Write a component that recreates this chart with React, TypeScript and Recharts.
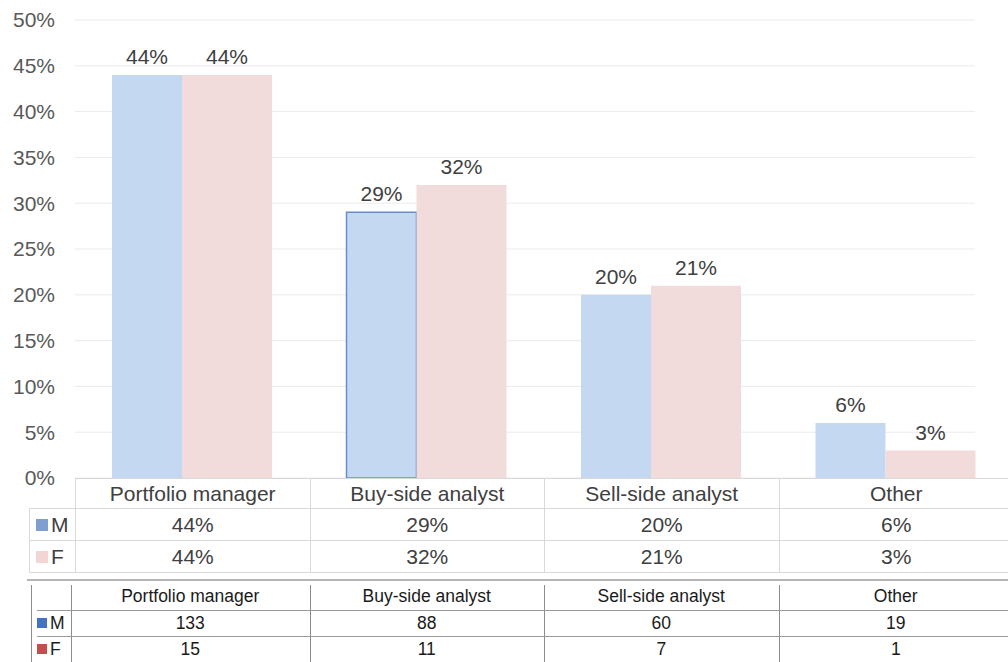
import React from 'react';
import { BarChart, Bar, XAxis, YAxis, CartesianGrid, LabelList, Cell } from 'recharts';

const categories = ['Portfolio manager', 'Buy-side analyst', 'Sell-side analyst', 'Other'];
const malePct = [44, 29, 20, 6];
const femalePct = [44, 32, 21, 3];
const maleCount = [133, 88, 60, 19];
const femaleCount = [15, 11, 7, 1];
const yTicks = [0, 5, 10, 15, 20, 25, 30, 35, 40, 45, 50];

const data = categories.map((name, i) => ({ name, M: malePct[i], F: femalePct[i] }));

const FONT = '"Liberation Sans", Arial, sans-serif';
const PLOT_LEFT = 75;
const PLOT_RIGHT = 1013;
const COL_W = (PLOT_RIGHT - PLOT_LEFT) / categories.length;
const colX = (i: number) => PLOT_LEFT + i * COL_W;

const gridLine = (props: any) => (
  <line
    key={props.key}
    x1={props.x1}
    x2={975}
    y1={props.y1}
    y2={props.y2}
    stroke="#ebebeb"
    strokeWidth={1}
  />
);

const Box: React.FC<{ x: number; y: number; w: number; h: number; style?: React.CSSProperties; children?: React.ReactNode }> = ({ x, y, w, h, style, children }) => (
  <div
    style={{
      position: 'absolute',
      left: x,
      top: y,
      width: w,
      height: h,
      boxSizing: 'border-box',
      display: 'flex',
      alignItems: 'center',
      justifyContent: 'center',
      ...style,
    }}
  >
    {children}
  </div>
);

export default function App() {
  const t1 = '#d9d9d9';
  const rows1 = [
    { key: 'M', color: '#7f9fd0', values: malePct },
    { key: 'F', color: '#f2d6d6', values: femalePct },
  ];
  const rows2 = [
    { key: 'M', color: '#4472c4', values: maleCount },
    { key: 'F', color: '#c0504d', values: femaleCount },
  ];
  const r1y = [508, 540];
  const r2y = [610, 636];
  const labelStyle = { fontSize: 21, fill: '#404040', fontFamily: FONT };

  return (
    <div style={{ position: 'relative', width: 1008, height: 662, overflow: 'hidden', background: '#fff', fontFamily: FONT }}>
      <style>{`body{margin:0}`}</style>
      <div style={{ position: 'absolute', left: 0, top: 0 }}>
        <BarChart width={PLOT_RIGHT} height={500} data={data} margin={{ top: 20, right: 0, bottom: 22, left: 0 }} barGap={0} barCategoryGap={0}>
          <CartesianGrid vertical={false} horizontal={gridLine} />
          <XAxis dataKey="name" hide />
          <YAxis
            domain={[0, 50]}
            ticks={yTicks}
            interval={0}
            tickFormatter={(v) => `${v}%`}
            axisLine={false}
            tickLine={false}
            tickSize={0}
            tickMargin={20}
            width={PLOT_LEFT}
            tick={{ fontSize: 21, fill: '#595959', fontFamily: FONT }}
          />
          <Bar dataKey="M" fill="#c5d8f1" barSize={70} isAnimationActive={false}>
            {data.map((d, i) => (
              <Cell key={d.name} stroke={i === 1 ? '#6a8cc8' : 'none'} strokeWidth={i === 1 ? 1.5 : 0} />
            ))}
            <LabelList dataKey="M" position="top" offset={11} formatter={(v: any) => `${v}%`} style={labelStyle} />
          </Bar>
          <Bar dataKey="F" fill="#f2dcdb" barSize={90} isAnimationActive={false}>
            <LabelList dataKey="F" position="top" offset={11} formatter={(v: any) => `${v}%`} style={labelStyle} />
          </Bar>
        </BarChart>
      </div>

      {/* data table under the chart */}
      <div style={{ color: '#404040', fontSize: 21 }}>
        {categories.map((c, i) => (
          <Box key={c} x={colX(i)} y={478} w={COL_W + 1} h={31} style={{ border: `1px solid ${t1}` }}>
            {c}
          </Box>
        ))}
        {rows1.map((r, ri) => (
          <React.Fragment key={r.key}>
            <Box x={29} y={r1y[ri]} w={47} h={33} style={{ border: `1px solid ${t1}`, justifyContent: 'flex-start', paddingLeft: 6 }}>
              <span style={{ display: 'inline-block', width: 12, height: 12, background: r.color, marginRight: 3 }} />
              {r.key}
            </Box>
            {r.values.map((v, i) => (
              <Box key={i} x={colX(i)} y={r1y[ri]} w={COL_W + 1} h={33} style={{ border: `1px solid ${t1}` }}>
                {v}%
              </Box>
            ))}
          </React.Fragment>
        ))}
      </div>

      {/* count table */}
      <div style={{ color: '#1a1a1a', fontSize: 17.5 }}>
        <div style={{ position: 'absolute', left: 27, top: 579, width: 990, height: 2, background: '#b5b5b5' }} />
        {[31, 71, colX(1), colX(2), colX(3)].map((x, i) => (
          <div key={i} style={{ position: 'absolute', left: Math.round(x), top: 585, width: 1, height: 77, background: '#8c8c8c' }} />
        ))}
        {r2y.map((y) => (
          <div key={y} style={{ position: 'absolute', left: 37, top: y, width: 980, height: 1, background: '#9a9a9a' }} />
        ))}
        {categories.map((c, i) => (
          <Box key={c} x={i === 0 ? 71 : colX(i)} y={583} w={i === 0 ? colX(1) - 71 : COL_W} h={27}>
            {c}
          </Box>
        ))}
        {rows2.map((r, ri) => (
          <React.Fragment key={r.key}>
            <Box x={31} y={r2y[ri]} w={40} h={26} style={{ justifyContent: 'flex-start', paddingLeft: 6 }}>
              <span style={{ display: 'inline-block', width: 10, height: 10, background: r.color, marginRight: 3 }} />
              {r.key}
            </Box>
            {r.values.map((v, i) => (
              <Box key={i} x={i === 0 ? 71 : colX(i)} y={r2y[ri]} w={i === 0 ? colX(1) - 71 : COL_W} h={26}>
                {v}
              </Box>
            ))}
          </React.Fragment>
        ))}
      </div>
    </div>
  );
}
